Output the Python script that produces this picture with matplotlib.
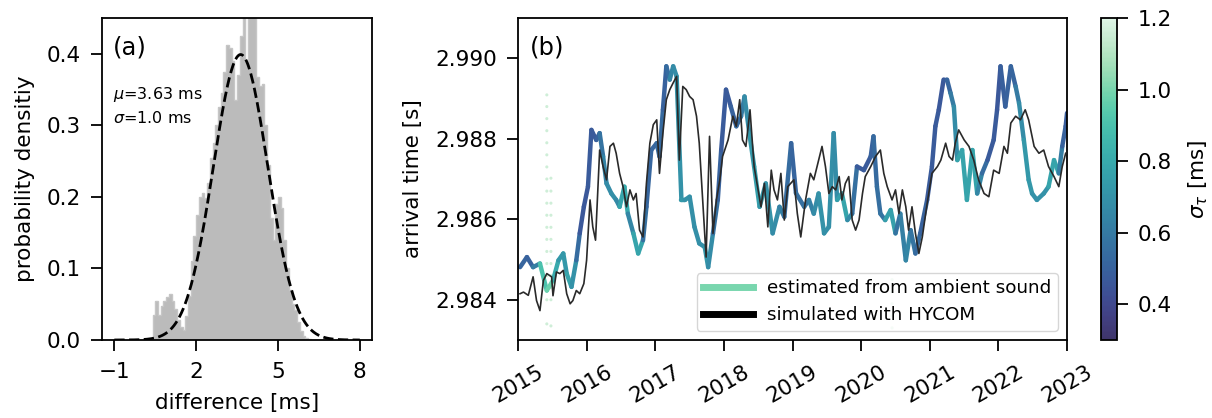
import numpy as np
import matplotlib
matplotlib.use("Agg")
import matplotlib.pyplot as plt
import matplotlib.dates as mdates
from matplotlib.collections import LineCollection
from matplotlib.colors import LinearSegmentedColormap, Normalize
import seaborn as sns

# ---------------- data ----------------
# (a) histogram of arrival-time differences [ms]: bin centres and densities
hist_centers = [0.35, 0.45, 0.55, 0.65, 0.75, 0.85, 0.95, 1.05, 1.15, 1.25,
                1.35, 1.45, 1.55, 1.65, 1.75, 1.85, 1.95, 2.05, 2.15, 2.25,
                2.35, 2.45, 2.55, 2.65, 2.75, 2.85, 2.95, 3.05, 3.15, 3.25,
                3.35, 3.45, 3.55, 3.65, 3.75, 3.85, 3.95, 4.05, 4.15, 4.25,
                4.35, 4.45, 4.55, 4.65, 4.75, 4.85, 4.95, 5.05, 5.15, 5.25,
                5.35, 5.45, 5.55, 5.65, 5.75, 5.85, 5.95, 6.05, 6.15]
hist_density = [0.000, 0.035, 0.055, 0.035, 0.048, 0.055, 0.060, 0.064, 0.055, 0.044,
                0.028, 0.018, 0.014, 0.033, 0.062, 0.110, 0.145, 0.175, 0.200, 0.205,
                0.198, 0.220, 0.255, 0.275, 0.300, 0.325, 0.345, 0.375, 0.412, 0.408,
                0.390, 0.335, 0.370, 0.425, 0.470, 0.390, 0.480, 0.480, 0.460, 0.368,
                0.355, 0.358, 0.300, 0.245, 0.170, 0.140, 0.190, 0.200, 0.185, 0.140,
                0.100, 0.070, 0.050, 0.042, 0.025, 0.012, 0.005, 0.003, 0.002]
fit_mu = 3.63
fit_sigma = 1.0

# (b) arrival time estimated from ambient sound (decimal year, seconds, sigma_tau [ms])
est_year = [2015.03, 2015.13, 2015.22, 2015.32, 2015.42, 2015.51, 2015.59, 2015.66, 2015.71, 2015.78,
            2015.85, 2015.90, 2015.96, 2016.02, 2016.07, 2016.14, 2016.19, 2016.24, 2016.29, 2016.36,
            2016.43, 2016.48, 2016.55, 2016.60, 2016.68, 2016.75, 2016.82, 2016.87, 2016.94, 2017.02,
            2017.06, 2017.11, 2017.16, 2017.21, 2017.26, 2017.31, 2017.38, 2017.43, 2017.50, 2017.57,
            2017.64, 2017.72, 2017.77, 2017.84, 2017.91, 2017.96, 2018.03, 2018.10, 2018.18, 2018.25,
            2018.30, 2018.37, 2018.44, 2018.52, 2018.61, 2018.71, 2018.81, 2018.88, 2018.98, 2019.05,
            2019.17, 2019.24, 2019.31, 2019.38, 2019.46, 2019.53, 2019.60, 2019.65, 2019.72, 2019.80,
            2019.87, 2019.94, 2020.04, 2020.14, 2020.18, 2020.23, 2020.28, 2020.35, 2020.43, 2020.50,
            2020.57, 2020.65, 2020.72, 2020.79, 2020.86, 2020.96, 2021.03, 2021.08, 2021.13, 2021.20,
            2021.25, 2021.30, 2021.35, 2021.40, 2021.47, 2021.54, 2021.62, 2021.69, 2021.76, 2021.84,
            2021.93, 2021.98, 2022.03, 2022.10, 2022.18, 2022.25, 2022.30, 2022.37, 2022.44, 2022.49,
            2022.56, 2022.66, 2022.73, 2022.81, 2022.88, 2022.93, 2022.98, 2023.00]
est_time = [2.98481, 2.98506, 2.98481, 2.98490, 2.98423, 2.98448, 2.98498, 2.98515, 2.98465, 2.98432,
            2.98498, 2.98565, 2.98631, 2.98681, 2.98822, 2.98797, 2.98814, 2.98756, 2.98689, 2.98664,
            2.98648, 2.98631, 2.98681, 2.98614, 2.98565, 2.98515, 2.98548, 2.98631, 2.98772, 2.98789,
            2.98756, 2.98872, 2.98980, 2.98947, 2.98980, 2.98955, 2.98648, 2.98648, 2.98656, 2.98581,
            2.98540, 2.98531, 2.98481, 2.98565, 2.98648, 2.98772, 2.98922, 2.98880, 2.98831, 2.98856,
            2.98905, 2.98814, 2.98731, 2.98631, 2.98689, 2.98565, 2.98631, 2.98606, 2.98789, 2.98665,
            2.98631, 2.98648, 2.98614, 2.98664, 2.98565, 2.98581, 2.98814, 2.98648, 2.98664, 2.98598,
            2.98614, 2.98731, 2.98722, 2.98756, 2.98806, 2.98681, 2.98614, 2.98598, 2.98623, 2.98565,
            2.98614, 2.98498, 2.98573, 2.98515, 2.98565, 2.98648, 2.98731, 2.98831, 2.98872, 2.98947,
            2.98947, 2.98914, 2.98880, 2.98747, 2.98772, 2.98648, 2.98772, 2.98664, 2.98714, 2.98747,
            2.98797, 2.98872, 2.98980, 2.98880, 2.98980, 2.98930, 2.98889, 2.98797, 2.98698, 2.98664,
            2.98648, 2.98664, 2.98681, 2.98747, 2.98714, 2.98781, 2.98831, 2.98864]
est_sigma = [0.55, 0.48, 0.52, 0.70, 1.10, 0.85, 0.75, 0.70, 0.75, 0.80,
             0.60, 0.48, 0.45, 0.48, 0.47, 0.48, 0.52, 0.62, 0.65, 0.70,
             0.68, 0.65, 0.90, 0.70, 0.60, 0.95, 0.60, 0.52, 0.52, 0.52,
             0.55, 0.52, 0.48, 0.60, 0.70, 0.65, 0.75, 0.70, 0.70, 0.68,
             0.70, 0.68, 0.75, 0.60, 0.52, 0.48, 0.46, 0.48, 0.52, 0.55,
             0.65, 0.70, 0.75, 0.75, 0.70, 0.70, 0.65, 0.60, 0.48, 0.55,
             0.55, 0.60, 0.65, 0.70, 0.70, 0.68, 0.70, 0.65, 0.85, 0.70,
             0.65, 0.47, 0.47, 0.48, 0.52, 0.55, 0.55, 0.60, 0.90, 0.60,
             0.55, 0.70, 0.60, 0.55, 0.52, 0.48, 0.47, 0.47, 0.47, 0.46,
             0.48, 0.55, 0.65, 0.70, 0.85, 0.70, 0.85, 0.70, 0.60, 0.48,
             0.47, 0.47, 0.46, 0.52, 0.48, 0.55, 0.65, 0.70, 0.75, 0.70,
             0.70, 0.70, 0.70, 0.85, 0.70, 0.52, 0.48, 0.48]

# sparse, poorly constrained estimates
sparse_year = [2015.42] * 19 + [2015.48] * 12 + [2020.45] * 5
sparse_time = [2.98909, 2.98880, 2.98850, 2.98820, 2.98790, 2.98760, 2.98730, 2.98700, 2.98670, 2.98640,
               2.98610, 2.98580, 2.98550, 2.98520, 2.98490, 2.98460, 2.98430, 2.98400, 2.98340,
               2.98702, 2.98670, 2.98640, 2.98610, 2.98580, 2.98550, 2.98520, 2.98490, 2.98460,
               2.98430, 2.98400, 2.98335,
               2.98450, 2.98420, 2.98390, 2.98360, 2.98330]
sparse_sigma = [1.15] * 36

# (b) arrival time simulated with HYCOM (decimal year, seconds)
sim_year = [2015.03, 2015.08, 2015.15, 2015.22, 2015.27, 2015.32, 2015.37, 2015.42, 2015.49, 2015.51,
            2015.56, 2015.61, 2015.66, 2015.71, 2015.76, 2015.80, 2015.85, 2015.90, 2015.96, 2016.00,
            2016.05, 2016.09, 2016.13, 2016.19, 2016.24, 2016.29, 2016.34, 2016.39, 2016.43, 2016.48,
            2016.53, 2016.58, 2016.63, 2016.68, 2016.72, 2016.77, 2016.82, 2016.87, 2016.92, 2016.97,
            2017.02, 2017.06, 2017.11, 2017.16, 2017.21, 2017.26, 2017.31, 2017.35, 2017.40, 2017.45,
            2017.50, 2017.55, 2017.60, 2017.64, 2017.69, 2017.74, 2017.79, 2017.84, 2017.89, 2017.94,
            2017.98, 2018.06, 2018.13, 2018.18, 2018.23, 2018.27, 2018.32, 2018.38, 2018.44, 2018.49,
            2018.54, 2018.59, 2018.64, 2018.69, 2018.73, 2018.78, 2018.83, 2018.88, 2018.93, 2019.02,
            2019.07, 2019.12, 2019.19, 2019.26, 2019.31, 2019.38, 2019.43, 2019.48, 2019.53, 2019.58,
            2019.63, 2019.68, 2019.72, 2019.77, 2019.82, 2019.87, 2019.92, 2019.97, 2020.02, 2020.06,
            2020.14, 2020.21, 2020.28, 2020.33, 2020.38, 2020.45, 2020.50, 2020.55, 2020.60, 2020.65,
            2020.69, 2020.74, 2020.79, 2020.84, 2020.89, 2020.96, 2021.03, 2021.11, 2021.16, 2021.23,
            2021.28, 2021.33, 2021.37, 2021.42, 2021.50, 2021.57, 2021.64, 2021.71, 2021.79, 2021.86,
            2021.93, 2022.01, 2022.08, 2022.13, 2022.18, 2022.25, 2022.32, 2022.39, 2022.44, 2022.52,
            2022.59, 2022.66, 2022.73, 2022.81, 2022.88, 2022.93, 2022.98]
sim_time = [2.98415, 2.98419, 2.98411, 2.98457, 2.98398, 2.98373, 2.98448, 2.98465, 2.98457, 2.98410,
            2.98469, 2.98465, 2.98473, 2.98415, 2.98390, 2.98398, 2.98423, 2.98415, 2.98440, 2.98498,
            2.98648, 2.98581, 2.98548, 2.98772, 2.98731, 2.98698, 2.98781, 2.98789, 2.98764, 2.98714,
            2.98681, 2.98631, 2.98673, 2.98648, 2.98664, 2.98573, 2.98556, 2.98689, 2.98789, 2.98835,
            2.98847, 2.98714, 2.98814, 2.98897, 2.98922, 2.98939, 2.98955, 2.98747, 2.98930, 2.98922,
            2.98905, 2.98897, 2.98856, 2.98789, 2.98648, 2.98506, 2.98806, 2.98565, 2.98648, 2.98698,
            2.98756, 2.98797, 2.98856, 2.98831, 2.98897, 2.98797, 2.98781, 2.98872, 2.98731, 2.98681,
            2.98631, 2.98689, 2.98581, 2.98722, 2.98673, 2.98648, 2.98714, 2.98598, 2.98681, 2.98698,
            2.98614, 2.98556, 2.98648, 2.98714, 2.98698, 2.98747, 2.98781, 2.98731, 2.98664, 2.98681,
            2.98673, 2.98706, 2.98648, 2.98689, 2.98706, 2.98598, 2.98573, 2.98598, 2.98664, 2.98706,
            2.98731, 2.98756, 2.98772, 2.98714, 2.98681, 2.98648, 2.98673, 2.98614, 2.98673, 2.98631,
            2.98573, 2.98631, 2.98565, 2.98515, 2.98556, 2.98639, 2.98714, 2.98731, 2.98747, 2.98789,
            2.98756, 2.98747, 2.98789, 2.98822, 2.98797, 2.98781, 2.98747, 2.98698, 2.98664, 2.98656,
            2.98722, 2.98714, 2.98781, 2.98764, 2.98839, 2.98856, 2.98847, 2.98872, 2.98847, 2.98781,
            2.98764, 2.98772, 2.98731, 2.98706, 2.98681, 2.98731, 2.98764]

year_ticks = list(range(2015, 2024))
sigma_ticks = [0.4, 0.6, 0.8, 1.0, 1.2]


def to_dates(years):
    """Convert decimal years to matplotlib date numbers."""
    years = np.asarray(years, dtype=float)
    whole = np.floor(years).astype(int)
    out = []
    for y, w in zip(years, whole):
        start = mdates.date2num(np.datetime64(f"{w:04d}-01-01"))
        end = mdates.date2num(np.datetime64(f"{w + 1:04d}-01-01"))
        out.append(start + (y - w) * (end - start))
    return np.array(out)


# ---------------- style ----------------
FS = 15.5
plt.rcParams.update({
    "font.family": ["DejaVu Sans"],
    "font.size": FS,
    "axes.linewidth": 1.3,
    "xtick.major.size": 8,
    "ytick.major.size": 8,
    "xtick.major.width": 1.3,
    "ytick.major.width": 1.3,
    "xtick.major.pad": 7.5,
    "ytick.major.pad": 7.0,
    "xtick.labelsize": FS,
    "ytick.labelsize": FS,
    "axes.labelsize": FS,
    "axes.labelpad": 8.5,
})

mako = sns.color_palette("mako", as_cmap=True)
cmap = LinearSegmentedColormap.from_list("mako_part", mako(np.linspace(0.25, 1.0, 256)))
norm = Normalize(vmin=0.3, vmax=1.2)

fig = plt.figure(figsize=(12.12, 4.18), dpi=100)
ax_a = fig.add_axes([0.0842, 0.1866, 0.2228, 0.7703])
ax_b = fig.add_axes([0.4274, 0.1866, 0.4530, 0.7703])
cax = fig.add_axes([0.9084, 0.1866, 0.0132, 0.7703])

# ---------------- panel (a) ----------------
centers = np.asarray(hist_centers)
edges = np.append(centers - 0.05, centers[-1] + 0.05)
ax_a.stairs(hist_density, edges, fill=True, color="#bbbbbb", linewidth=0)
ax_a.stairs(hist_density, edges, fill=False, color="#c6c6c6", linewidth=1.0)
xg = np.linspace(-1, 8, 400)
pdf = np.exp(-0.5 * ((xg - fit_mu) / fit_sigma) ** 2) / (fit_sigma * np.sqrt(2 * np.pi))
ax_a.plot(xg, pdf, color="black", ls="--", lw=2.0)
ax_a.set_xlim(-1.45, 8.45)
ax_a.set_ylim(0, 0.45)
ax_a.set_xticks([-1, 2, 5, 8])
ax_a.set_yticks([0.0, 0.1, 0.2, 0.3, 0.4])
ax_a.set_xlabel("difference [ms]")
ax_a.set_ylabel("probability densitiy")
ax_a.text(0.04, 0.945, "(a)", transform=ax_a.transAxes, fontsize=17.5, va="top", ha="left")
ax_a.text(0.04, 0.665, f"$\\mu$={fit_mu} ms\n$\\sigma$={fit_sigma} ms",
          transform=ax_a.transAxes, fontsize=11.5, va="bottom", ha="left", linespacing=1.45)

# ---------------- panel (b) ----------------
ex = to_dates(est_year)
ey = np.asarray(est_time)
es = np.asarray(est_sigma)
pts = np.column_stack([ex, ey]).reshape(-1, 1, 2)
segs = np.concatenate([pts[:-1], pts[1:]], axis=1)
lc = LineCollection(segs, cmap=cmap, norm=norm, linewidths=3.2, capstyle="round",
                    joinstyle="round", zorder=2)
lc.set_array(0.5 * (es[:-1] + es[1:]))
ax_b.add_collection(lc)

ax_b.scatter(to_dates(sparse_year), sparse_time, c=sparse_sigma, cmap=cmap, norm=norm,
             s=5, alpha=0.9, linewidths=0, zorder=1)

ax_b.plot(to_dates(sim_year), sim_time, color="#2a2a2a", lw=1.2, zorder=3)

ax_b.set_xlim(to_dates([2015.0])[0], to_dates([2023.0])[0])
ax_b.set_ylim(2.983, 2.991)
ax_b.set_yticks([2.984, 2.986, 2.988, 2.990])
ax_b.yaxis.set_major_formatter(matplotlib.ticker.FormatStrFormatter("%.3f"))
ax_b.set_xticks(to_dates(year_ticks))
ax_b.set_xticklabels([str(y) for y in year_ticks], rotation=30, ha="center")
ax_b.set_ylabel("arrival time [s]")
ax_b.text(0.022, 0.945, "(b)", transform=ax_b.transAxes, fontsize=17.5, va="top", ha="left")

handles = [
    matplotlib.lines.Line2D([], [], color=cmap(norm(1.0)), lw=5),
    matplotlib.lines.Line2D([], [], color="black", lw=5),
]
ax_b.legend(handles, ["estimated from ambient sound", "simulated with HYCOM"],
            loc="lower right", fontsize=13.2, handlelength=2.7, framealpha=0.8,
            borderpad=0.35, borderaxespad=0.5)

# ---------------- colorbar ----------------
cb = fig.colorbar(matplotlib.cm.ScalarMappable(norm=norm, cmap=cmap), cax=cax)
cb.set_ticks(sigma_ticks)
cb.set_label(r"$\sigma_\tau$ [ms]", labelpad=10)
cb.outline.set_linewidth(1.3)

fig.savefig("out.png", dpi=100)
